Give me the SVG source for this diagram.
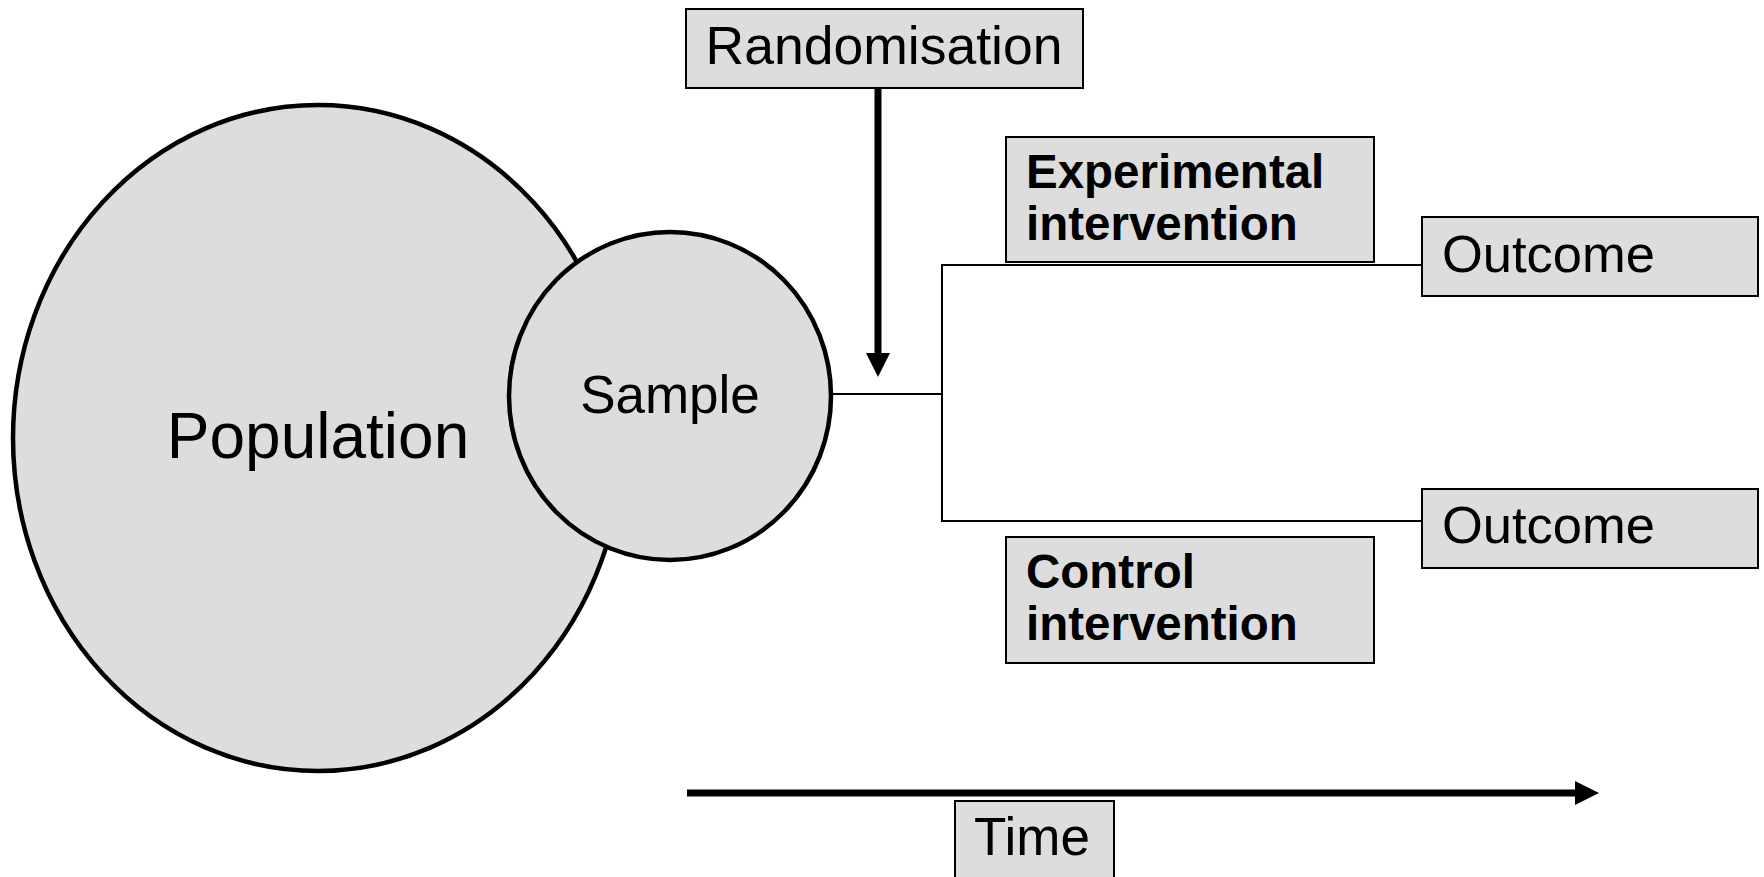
<svg xmlns="http://www.w3.org/2000/svg" width="1764" height="877" viewBox="0 0 1764 877">
<style>
.bg{fill:#ffffff}
.shape{fill:#dddddd;stroke:#000000;stroke-width:4.5}
.box{fill:#dddddd;stroke:#000000;stroke-width:2}
.t{font-family:"Liberation Sans",Arial,sans-serif;fill:#000000}
.b{font-family:"Liberation Sans",Arial,sans-serif;font-weight:bold;font-size:47.5px;fill:#000000}
.thin{stroke:#000000;stroke-width:2;fill:none}
.thick{stroke:#000000;stroke-width:7;fill:none}
</style>
<defs>
<marker id="ah" viewBox="0 0 24 24" refX="0" refY="12" markerWidth="24" markerHeight="24" markerUnits="userSpaceOnUse" orient="auto">
<path d="M0,0 L24,12 L0,24 z" fill="#000000"/>
</marker>
</defs>
<rect class="bg" x="0" y="0" width="1764" height="877"/>
<g id="population">
<ellipse class="shape" cx="318" cy="438" rx="305" ry="333"/>
<text class="t" x="318" y="458" font-size="64" text-anchor="middle">Population</text>
</g>
<g id="sample">
<ellipse class="shape" cx="670" cy="396" rx="161" ry="164"/>
<text class="t" x="670" y="413" font-size="53" text-anchor="middle">Sample</text>
</g>
<g id="randomisation">
<rect class="box" x="686" y="9" width="397" height="79"/>
<text class="t" x="884" y="64" font-size="53.5" text-anchor="middle">Randomisation</text>
</g>
<g id="experimental">
<rect class="box" x="1006" y="137" width="368" height="125"/>
<text class="b" x="1026" y="188">Experimental</text>
<text class="b" x="1026" y="240">intervention</text>
</g>
<g id="control">
<rect class="box" x="1006" y="537" width="368" height="126"/>
<text class="b" x="1026" y="588">Control</text>
<text class="b" x="1026" y="640">intervention</text>
</g>
<g id="outcome1">
<rect class="box" x="1422" y="217" width="336" height="79"/>
<text class="t" x="1442" y="272" font-size="52.5">Outcome</text>
</g>
<g id="outcome2">
<rect class="box" x="1422" y="489" width="336" height="79"/>
<text class="t" x="1442" y="543" font-size="52.5">Outcome</text>
</g>
<g id="time">
<rect class="box" x="955" y="801" width="159" height="90"/>
<text class="t" x="1032" y="855" font-size="53" text-anchor="middle">Time</text>
</g>
<g id="connectors">
<line class="thick" x1="878" y1="88" x2="878" y2="353" marker-end="url(#ah)"/>
<polyline class="thin" points="831,394 942,394"/>
<line class="thin" x1="942" y1="265" x2="942" y2="521"/>
<line class="thin" x1="941" y1="265" x2="1422" y2="265"/>
<line class="thin" x1="941" y1="521" x2="1422" y2="521"/>
<line class="thick" x1="687" y1="793" x2="1575" y2="793" marker-end="url(#ah)"/>
</g>
</svg>
